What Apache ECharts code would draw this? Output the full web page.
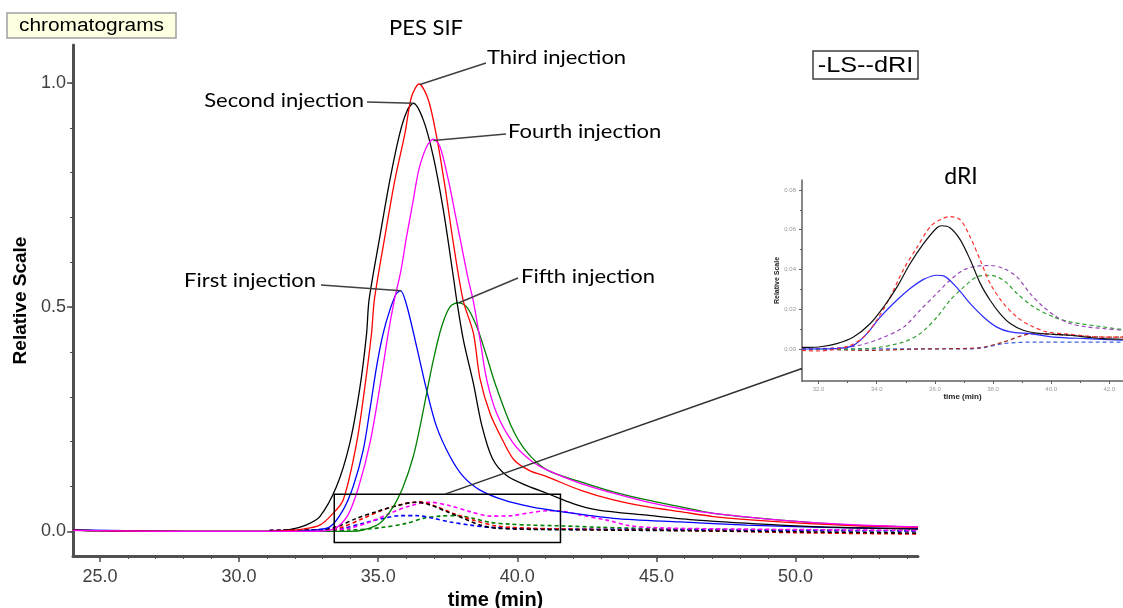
<!DOCTYPE html>
<html><head><meta charset="utf-8">
<script src="https://cdn.jsdelivr.net/npm/echarts@6/dist/echarts.min.js"></script>
<style>html,body{margin:0;padding:0;background:#fff}#c{width:1123px;height:608px}</style>
</head><body><div id="c"></div>
<script>
// ---------- DATA (time in min, relative scale) ----------
const xLabelValues = [25, 30, 35, 40, 45, 50];
const xMinorValues = [25,26,27,28,29,30,31,32,33,34,35,36,37,38,39,40,41,42,43,44,45,46,47,48,49,50,51,52,53,54];
const yLabelValues = [0, 0.5, 1.0];
const yMinorValues = [0,0.1,0.2,0.3,0.4,0.5,0.6,0.7,0.8,0.9,1.0];
const insetXLabelValues = [32, 34, 36, 38, 40, 42];
const insetXMinorValues = [32, 33, 34, 35, 36, 37, 38, 39, 40, 41, 42];
const insetYLabelValues = [0, 0.02, 0.04, 0.06, 0.08];
const insetYMinorValues = [-0.01, 0, 0.01, 0.02, 0.03, 0.04, 0.05, 0.06, 0.07, 0.08];

// LS (solid) curves
const lsSecond = [[24.03,0.003],[25,0.001],[28,0],[31.1,0],[31.8,0.004],[32.4,0.014],[32.9,0.033],[33.5,0.1],[33.98,0.197],[34.34,0.32],[34.58,0.44],[34.67,0.516],[35.06,0.658],[35.42,0.784],[35.78,0.889],[36.05,0.94],[36.26,0.955],[36.62,0.918],[36.98,0.836],[37.34,0.717],[37.7,0.568],[37.82,0.516],[38.06,0.427],[38.42,0.33],[38.72,0.237],[39.1,0.163],[39.6,0.125],[40.3,0.103],[41.06,0.085],[42.0,0.062],[42.86,0.048],[44.65,0.036],[46.45,0.025],[49.45,0.014],[52,0.008],[54.4,0.005]];
const lsThird = [[24.03,0.002],[28,0],[31.1,0],[31.8,0.002],[32.3,0.005],[32.9,0.014],[33.3,0.035],[33.74,0.07],[34.22,0.196],[34.52,0.323],[34.76,0.442],[34.86,0.516],[35.24,0.658],[35.6,0.784],[35.96,0.888],[36.2,0.97],[36.47,0.998],[36.8,0.963],[37.1,0.88],[37.4,0.769],[37.7,0.643],[38.05,0.516],[38.42,0.442],[38.66,0.34],[39.02,0.263],[39.5,0.2],[39.9,0.158],[40.46,0.135],[41.06,0.122],[42.26,0.092],[43.45,0.07],[44.65,0.055],[45.85,0.044],[47.05,0.033],[49.45,0.021],[52,0.013],[54.4,0.009]];
const lsFourth = [[24.03,0.002],[28,0],[31.1,0],[32.5,0],[33.4,0.005],[33.9,0.035],[34.3,0.1],[34.7,0.196],[35.06,0.323],[35.36,0.442],[35.58,0.516],[35.82,0.583],[36.02,0.658],[36.24,0.732],[36.46,0.807],[36.74,0.858],[36.98,0.875],[37.22,0.858],[37.52,0.784],[37.76,0.71],[38.0,0.635],[38.24,0.561],[38.42,0.513],[38.66,0.427],[38.9,0.338],[39.26,0.263],[39.86,0.196],[40.46,0.159],[41.06,0.137],[42.26,0.107],[43.45,0.085],[44.65,0.066],[45.85,0.051],[47.05,0.04],[49.45,0.025],[52,0.015],[54.4,0.01]];
const lsFirst = [[24.03,0.003],[28,0],[31.1,0],[32.5,0.002],[33.26,0.01],[33.74,0.048],[34.1,0.1],[34.46,0.181],[34.7,0.271],[34.94,0.367],[35.18,0.442],[35.42,0.494],[35.65,0.53],[35.8,0.537],[36.02,0.505],[36.38,0.412],[36.74,0.315],[37.1,0.233],[37.58,0.167],[38.06,0.122],[38.66,0.092],[39.5,0.07],[40.46,0.055],[41.54,0.044],[43.45,0.029],[45.85,0.021],[48.25,0.014],[51,0.009],[54.4,0.006]];
const lsFifth = [[24.03,0.002],[28,0],[31.1,0],[34.0,0],[34.46,0.003],[35.06,0.018],[35.54,0.055],[35.9,0.1],[36.26,0.167],[36.5,0.233],[36.74,0.308],[36.98,0.382],[37.28,0.457],[37.58,0.501],[37.88,0.51],[38.18,0.501],[38.54,0.457],[38.9,0.39],[39.2,0.33],[39.8,0.232],[40.3,0.18],[41.06,0.137],[42.26,0.111],[43.45,0.088],[44.65,0.07],[45.85,0.055],[47.05,0.04],[49.45,0.025],[52,0.014],[54.4,0.01]];

// dRI (dashed) curves
const driSecond = [[31.1,0.002],[33.0,0.004],[33.5,0.01],[34.22,0.029],[34.94,0.044],[35.66,0.057],[36.38,0.065],[36.86,0.059],[37.46,0.044],[38.06,0.029],[38.66,0.014],[39.26,0.007],[41,0.004],[45,0.002],[50,-0.001],[54.4,-0.004]];
const driThird = [[31.1,0.002],[33.2,0.004],[33.74,0.01],[34.46,0.029],[35.18,0.048],[35.9,0.061],[36.5,0.066],[37.1,0.055],[37.7,0.04],[38.42,0.025],[39.26,0.012],[40.46,0.007],[43,0.004],[47,0.001],[50,-0.003],[54.4,-0.006]];
const driFourth = [[31.1,0.002],[33.3,0.003],[33.98,0.007],[34.7,0.021],[35.42,0.04],[36.14,0.057],[36.86,0.065],[37.58,0.057],[38.3,0.044],[39.02,0.034],[39.8,0.035],[40.5,0.042],[41.1,0.046],[41.6,0.045],[42.3,0.036],[43.22,0.025],[44,0.013],[45,0.008],[48,0.005],[54.4,0.002]];
const driFirst = [[31.1,0.002],[33.0,0.004],[33.74,0.007],[34.46,0.018],[35.18,0.029],[35.78,0.035],[36.38,0.035],[36.98,0.029],[37.58,0.021],[38.3,0.014],[39.02,0.009],[40.5,0.006],[45,0.004],[50,0.002],[54.4,0.001]];
const driFifth = [[31.1,0.002],[33.98,0.003],[35.06,0.008],[36.02,0.018],[36.62,0.029],[37.22,0.034],[37.82,0.035],[38.42,0.029],[39.02,0.02],[39.74,0.016],[40.46,0.014],[41.66,0.012],[43,0.009],[45,0.006],[50,0.003],[54.4,0.001]];

// inset (dRI zoom) curves
const insetBlackSolid = [[31.43,0.0008],[32.0,0.001],[32.63,0.0027],[33.2,0.006],[33.78,0.0128],[34.23,0.021],[34.69,0.031],[35.15,0.043],[35.61,0.053],[36.07,0.061],[36.24,0.062],[36.52,0.061],[36.87,0.055],[37.21,0.045],[37.56,0.033],[37.9,0.0245],[38.24,0.0178],[38.59,0.0128],[39.04,0.0094],[39.5,0.008],[40.08,0.0074],[40.65,0.0069],[41.22,0.006],[41.79,0.0052],[42.47,0.0049]];
const insetRedDashed = [[31.43,-0.0007],[32.0,-0.001],[32.6,-0.0001],[33.09,0.0018],[33.55,0.006],[34.0,0.0145],[34.46,0.026],[34.92,0.04],[35.38,0.051],[35.84,0.0615],[36.18,0.065],[36.52,0.0666],[36.87,0.065],[37.21,0.0565],[37.56,0.0447],[37.9,0.033],[38.36,0.0229],[38.82,0.0161],[39.27,0.0119],[39.85,0.0086],[40.65,0.0074],[41.79,0.006],[42.47,0.006]];
const insetBlueSolid = [[31.43,0],[32.6,0.0002],[33.2,0.0018],[33.66,0.0077],[34.12,0.016],[34.69,0.0245],[35.15,0.0304],[35.61,0.035],[36.07,0.0371],[36.3,0.0368],[36.75,0.031],[37.21,0.0229],[37.67,0.0161],[38.13,0.011],[38.59,0.0086],[39.27,0.0077],[40.08,0.006],[41.22,0.0052],[42.47,0.0044]];
const insetPurpleDashed = [[31.43,0],[33.2,0.0013],[34.12,0.0052],[34.92,0.011],[35.49,0.0195],[36.07,0.028],[36.52,0.0346],[36.98,0.0397],[37.44,0.0417],[37.9,0.042],[38.36,0.0405],[38.82,0.0363],[39.27,0.028],[39.73,0.0212],[40.19,0.0161],[40.65,0.0128],[41.22,0.0111],[41.79,0.0103],[42.47,0.0094]];
const insetGreenDashed = [[31.43,-0.0003],[33.7,0.0002],[34.92,0.0035],[35.49,0.0077],[36.07,0.016],[36.52,0.0245],[36.98,0.031],[37.44,0.0363],[37.9,0.0371],[38.36,0.0346],[38.82,0.028],[39.39,0.0212],[40.08,0.0161],[40.65,0.0136],[41.79,0.0111],[42.47,0.0097]];
const insetBrownDashed = [[31.43,0.0002],[33.7,-0.0007],[35.5,0],[37.44,0.0005],[38.36,0.0035],[39.04,0.0069],[39.5,0.0077],[40.65,0.0069],[41.79,0.006],[42.47,0.006]];
const insetBlueDashed = [[31.43,0.0001],[37.0,0.0],[37.67,0.0007],[38.36,0.0027],[39.5,0.0035],[42.47,0.0035]];

// annotations: label text, peak it points to (data coords)
const annotations = [
  {text:'Second injection', at:[36.26,0.955]},
  {text:'Third injection', at:[36.5,0.997]},
  {text:'Fourth injection', at:[36.98,0.872]},
  {text:'First injection', at:[35.82,0.537]},
  {text:'Fifth injection', at:[37.9,0.51]}
];
// zoom box in main chart (data coords)
const zoomBox = {x0:33.42, x1:41.55, y0:-0.025, y1:0.083};

// ---------- LAYOUT / STYLE ----------
const annLayout = [
  {tx:364, ty:101, align:'right', lx:367, ly:102},
  {tx:487, ty:58, align:'left', lx:486, ly:63},
  {tx:508, ty:132, align:'left', lx:506, ly:134},
  {tx:316, ty:281, align:'right', lx:321, ly:285},
  {tx:521, ty:277, align:'left', lx:518, ly:278}
];

const chart = echarts.init(document.getElementById('c'), null, {renderer:'canvas'});
const AX = '#505050';
const fmt1 = v => v.toFixed(1);
const fmt2 = v => v.toFixed(2);

function solid(name, data, color, xi, w){
  return {name, type:'line', data, xAxisIndex:xi, yAxisIndex:xi, showSymbol:false, symbol:'none', smooth:0.3,
    lineStyle:{color, width:w||1.3}, itemStyle:{color}, silent:true, z:3};
}
function dashed(name, data, color, xi, w){
  return {name, type:'line', data, xAxisIndex:xi, yAxisIndex:xi, showSymbol:false, symbol:'none', smooth:0.3,
    lineStyle:{color, width:w||1.6, type:[4,3]}, itemStyle:{color}, silent:true, z:3};
}
function minorAxis(gridIndex, min, max, values, pos, len, color){
  return {type:'value', gridIndex, min, max, position:pos, show:true,
    axisLine:{show:false, onZero:false}, axisTick:{show:true, length:len, customValues:values, lineStyle:{color, width:1}},
    axisLabel:{show:false}, splitLine:{show:false}};
}

const option = {
  animation:false,
  backgroundColor:'#ffffff',
  textStyle:{fontFamily:'Liberation Sans, Arial, sans-serif'},
  grid:[
    {left:73, top:45, right:205, bottom:52, containLabel:false, outerBoundsMode:'none'},
    {left:802, top:180, right:0, bottom:227, containLabel:false, outerBoundsMode:'none'}
  ],
  xAxis:[
    {type:'value', gridIndex:0, min:24.03, max:54.4, position:'bottom',
     name:'time (min)', nameLocation:'middle', nameGap:31,
     nameTextStyle:{fontWeight:'bold', fontSize:20, color:'#000'},
     axisLine:{show:true, onZero:false, lineStyle:{color:AX, width:3}},
     axisTick:{show:true, length:6, customValues:xLabelValues, lineStyle:{color:AX, width:1.5}},
     axisLabel:{show:true, customValues:xLabelValues, formatter:fmt1, fontSize:18, color:'#404040', margin:12},
     splitLine:{show:false}},
    {type:'value', gridIndex:1, min:31.43, max:42.47, position:'bottom',
     name:'time (min)', nameLocation:'middle', nameGap:12,
     nameTextStyle:{fontWeight:'bold', fontSize:8, color:'#222'},
     axisLine:{show:true, onZero:false, lineStyle:{color:'#606060', width:1.5}},
     axisTick:{show:true, length:3, customValues:insetXLabelValues, lineStyle:{color:'#606060'}},
     axisLabel:{show:true, customValues:insetXLabelValues, formatter:fmt1, fontSize:6, color:'#999', margin:5},
     splitLine:{show:false}},
    minorAxis(0, 24.03, 54.4, xMinorValues, 'bottom', 3, AX),
    minorAxis(1, 31.43, 42.47, insetXMinorValues, 'bottom', 2, '#606060')
  ],
  yAxis:[
    {type:'value', gridIndex:0, min:-0.055, max:1.085, position:'left',
     name:'Relative Scale', nameLocation:'middle', nameGap:42,
     nameTextStyle:{fontWeight:'bold', fontSize:19, color:'#000'},
     axisLine:{show:true, onZero:false, lineStyle:{color:AX, width:3}},
     axisTick:{show:true, length:6, customValues:yLabelValues, lineStyle:{color:AX, width:1.5}},
     axisLabel:{show:true, customValues:yLabelValues, formatter:fmt1, fontSize:18, color:'#404040', margin:7},
     splitLine:{show:false}},
    {type:'value', gridIndex:1, min:-0.0161, max:0.085, position:'left',
     name:'Relative Scale', nameLocation:'middle', nameGap:18,
     nameTextStyle:{fontWeight:'bold', fontSize:7, color:'#222'},
     axisLine:{show:true, onZero:false, lineStyle:{color:'#606060', width:1.5}},
     axisTick:{show:true, length:3, customValues:insetYLabelValues, lineStyle:{color:'#606060'}},
     axisLabel:{show:true, customValues:insetYLabelValues, formatter:fmt2, fontSize:6, color:'#999', margin:6},
     splitLine:{show:false}},
    minorAxis(0, -0.055, 1.085, yMinorValues, 'left', 3, AX),
    minorAxis(1, -0.0161, 0.085, insetYMinorValues, 'left', 2, '#606060')
  ],
  series:[
    dashed('dRI fifth', driFifth, '#008000', 0),
    dashed('dRI first', driFirst, '#0000ff', 0),
    dashed('dRI fourth', driFourth, '#ff00ff', 0),
    dashed('dRI third', driThird, '#ff0000', 0),
    dashed('dRI second', driSecond, '#000000', 0),
    solid('First injection', lsFirst, '#0000ff', 0),
    solid('Fifth injection', lsFifth, '#008000', 0),
    solid('Second injection', lsSecond, '#000000', 0),
    solid('Third injection', lsThird, '#ff0000', 0),
    solid('Fourth injection', lsFourth, '#ff00ff', 0),
    dashed('inset blue dashed', insetBlueDashed, '#4060e0', 1, 1.2),
    dashed('inset brown dashed', insetBrownDashed, '#a02828', 1, 1.2),
    dashed('inset green dashed', insetGreenDashed, '#30a030', 1, 1.2),
    dashed('inset purple dashed', insetPurpleDashed, '#9848b8', 1, 1.2),
    solid('inset blue solid', insetBlueSolid, '#2a2aff', 1, 1.2),
    dashed('inset red dashed', insetRedDashed, '#ff3030', 1, 1.2),
    solid('inset black solid', insetBlackSolid, '#111111', 1, 1.2)
  ]
};
chart.setOption(option);

// ---------- overlays (positions derived from the axes) ----------
const g = [];
g.push({type:'rect', shape:{x:7, y:13, width:169, height:25}, style:{fill:'#ffffe1', stroke:'#a0a0a0', lineWidth:1.5}, z:10});
g.push({type:'text', x:91.5, y:26, scaleX:1.16, style:{text:'chromatograms', font:'18px "Liberation Sans", Arial', fill:'#000', align:'center', verticalAlign:'middle'}, z:11});
g.push({type:'rect', shape:{x:813, y:51, width:105, height:28}, style:{fill:'#fff', stroke:'#404040', lineWidth:1.5}, z:10});
g.push({type:'text', x:865.5, y:66, scaleX:1.15, style:{text:'-LS--dRI', font:'22px "Liberation Sans", Arial', fill:'#000', align:'center', verticalAlign:'middle'}, z:11});
g.push({type:'text', x:426, y:28, style:{text:'PES SIF', font:'22px Lato, "Open Sans", sans-serif', fill:'#000', align:'center', verticalAlign:'middle'}, z:11});
g.push({type:'text', x:961, y:177, style:{text:'dRI', font:'23px Lato, "Open Sans", sans-serif', fill:'#000', align:'center', verticalAlign:'middle'}, z:11});

annotations.forEach((a, i) => {
  const L = annLayout[i];
  const p = chart.convertToPixel({gridIndex:0}, a.at);
  g.push({type:'line', shape:{x1:L.lx, y1:L.ly, x2:p[0], y2:p[1]}, style:{stroke:'#404040', lineWidth:1.5}, z:12});
  g.push({type:'text', x:L.tx, y:L.ty, scaleX:1.1, style:{text:a.text, font:'20px Lato, "Open Sans", sans-serif', fill:'#000', align:L.align, verticalAlign:'middle'}, z:12});
});

const b0 = chart.convertToPixel({gridIndex:0}, [zoomBox.x0, zoomBox.y1]);
const b1 = chart.convertToPixel({gridIndex:0}, [zoomBox.x1, zoomBox.y0]);
g.push({type:'rect', shape:{x:b0[0], y:b0[1], width:b1[0]-b0[0], height:b1[1]-b0[1]}, style:{fill:'none', stroke:'#000', lineWidth:1.5}, z:12});
const c0 = chart.convertToPixel({gridIndex:0}, [37.4, zoomBox.y1]);
const c1 = chart.convertToPixel({gridIndex:1}, [31.43, -0.0098]);
g.push({type:'line', shape:{x1:c0[0], y1:c0[1], x2:c1[0], y2:c1[1]}, style:{stroke:'#303030', lineWidth:1.5}, z:12});

chart.setOption({graphic:g});
</script>
</body></html>
